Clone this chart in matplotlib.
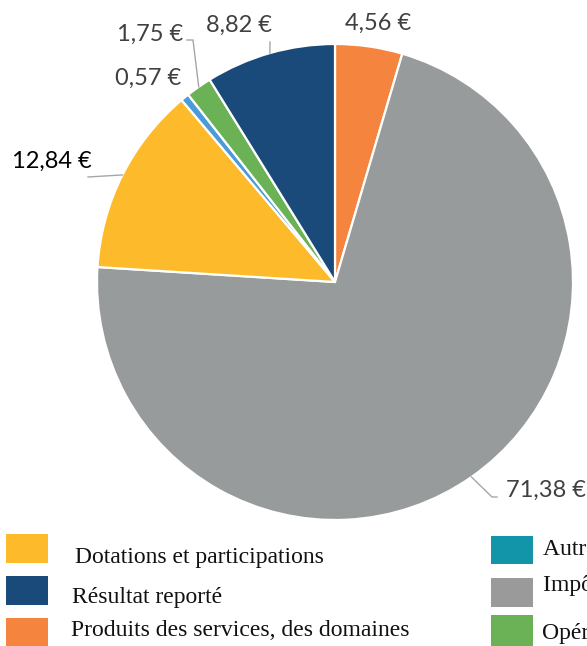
import numpy as np
import matplotlib
matplotlib.use("Agg")
import matplotlib.pyplot as plt
from matplotlib.patches import Rectangle

# ---- data ----
slice_values = [4.56, 71.38, 12.84, 0.57, 1.75, 8.82]
slice_labels = ["4,56 €", "71,38 €", "12,84 €", "0,57 €", "1,75 €", "8,82 €"]
slice_colors = ["#F5843F", "#989B9B", "#FDBB2B", "#4A9BD6", "#6AB255", "#194A7A"]

legend_left = ["Dotations et participations", "Résultat reporté",
               "Produits des services, des domaines"]
legend_left_colors = ["#FDBB2B", "#194A7A", "#F5843F"]
legend_right = ["Autres produits de gestion courante", "Impôts et taxes",
                "Opérations d'ordre entre sections"]
legend_right_colors = ["#1295A8", "#9A9A9A", "#6AB255"]

W, H = 587, 646
fig = plt.figure(figsize=(W / 100, H / 100), dpi=100)

cx, cy, R = 335, 282, 238
ax = fig.add_axes([(cx - R) / W, (H - cy - R) / H, 2 * R / W, 2 * R / H])
wedges, _ = ax.pie(slice_values, colors=slice_colors, startangle=90,
                   counterclock=False, radius=1,
                   wedgeprops=dict(edgecolor="white", linewidth=1.6))
ax.set_xlim(-1, 1)
ax.set_ylim(-1, 1)
ax.set_aspect("equal")
ax.axis("off")


def px2data(x, y):
    return ((x - cx) / R, (cy - y) / R)


def mid(w):
    a = np.deg2rad((w.theta1 + w.theta2) / 2)
    return np.cos(a), np.sin(a)


label_font = "Lato"
label_size = 17
# label positions (pixel coords, center) and leader line paths (pixels after wedge midpoint)
label_pos = [(378, 23, "center", "#404040", []),
             (506, 490, "left", "#404040", [(492, 497), (497, 497)]),
             (52, 161, "center", "#000000", [(88, 177)]),
             (148, 78, "center", "#404040", []),
             (150, 34, "center", "#404040", [(193, 40), (187, 40)]),
             (239, 25, "center", "#404040", [(270, 42)])]

for w, lab, (x, y, ha, col, path) in zip(wedges, slice_labels, label_pos):
    if path:
        pts = [mid(w)] + [px2data(px, py) for px, py in path]
        xs, ys = zip(*pts)
        ax.plot(xs, ys, color="#A6A6A6", lw=1.0, clip_on=False)
    tx, ty = px2data(x, y)
    ax.text(tx, ty, lab, ha=ha, va="center", fontsize=label_size,
            family=label_font, color=col, clip_on=False)

# ---- legend (manual; right column is cut by the image edge as in the original) ----
serif = "Liberation Serif"
leg_size = 17
rows_left = [(534, 563, 75, 557), (576, 605, 72, 597), (618, 647, 71, 631)]
rows_right = [(536, 564, 543, 549), (578, 607, 543, 586), (615, 647, 542, 633)]
for (y0, y1, tx, ty), lab, col in zip(rows_left, legend_left, legend_left_colors):
    fig.add_artist(Rectangle((6 / W, 1 - y1 / H), 42 / W, (y1 - y0) / H,
                             transform=fig.transFigure, color=col, lw=0))
    fig.text(tx / W, 1 - ty / H, lab, ha="left", va="center",
             fontsize=leg_size, family=serif, color="#111111")
for (y0, y1, tx, ty), lab, col in zip(rows_right, legend_right, legend_right_colors):
    fig.add_artist(Rectangle((491 / W, 1 - y1 / H), 42 / W, (y1 - y0) / H,
                             transform=fig.transFigure, color=col, lw=0))
    fig.text(tx / W, 1 - ty / H, lab, ha="left", va="center",
             fontsize=leg_size, family=serif, color="#111111")

fig.savefig("out.png", dpi=100)
